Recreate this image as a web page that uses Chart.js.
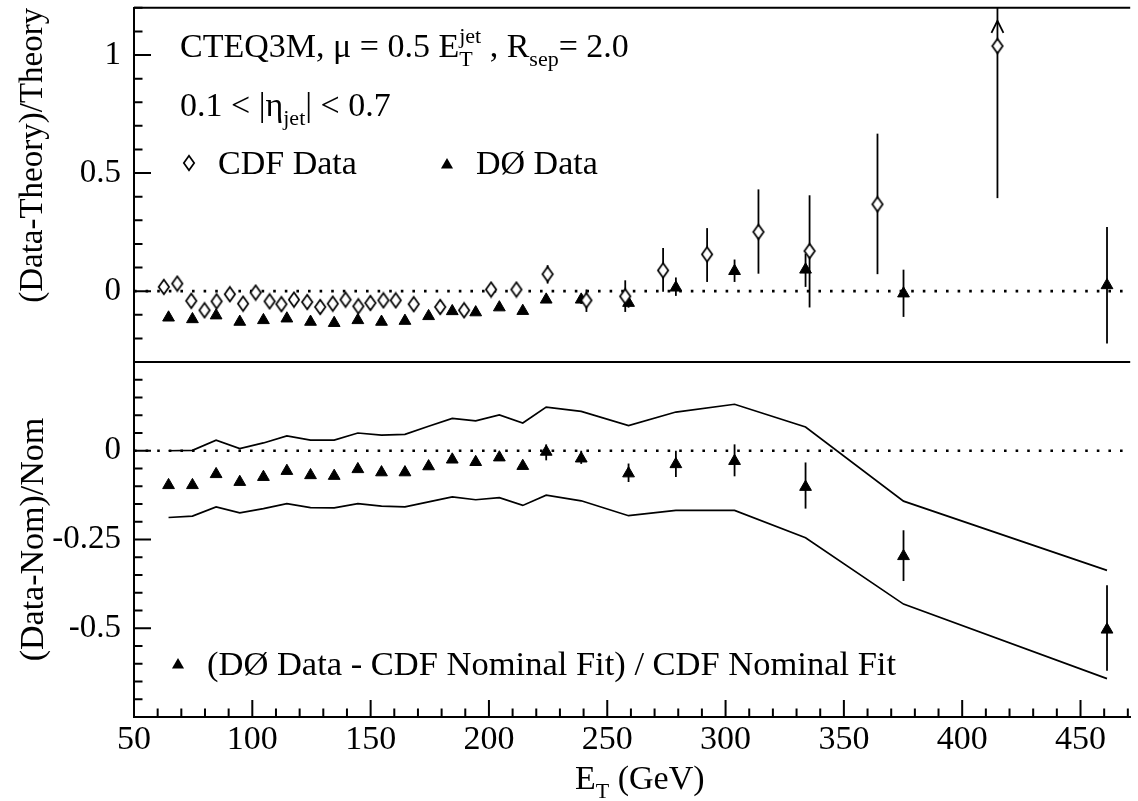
<!DOCTYPE html>
<html>
<head>
<meta charset="utf-8">
<script src="https://cdn.jsdelivr.net/npm/chart.js@4.4.1/dist/chart.umd.min.js"></script>
<style>
  html, body { margin: 0; padding: 0; background: #fff; }
  #wrap { position: relative; width: 1138px; height: 801px; }
  #wrap canvas { position: absolute; left: 0; top: 0; width: 1138px; height: 801px; }
</style>
</head>
<body>
<div id="wrap">
  <canvas id="upper" width="1138" height="801"></canvas>
  <canvas id="lower" width="1138" height="801"></canvas>
</div>
<script>
// CDF points (upper panel)
const cdfEt = [62.6, 68.3, 74.2, 79.8, 84.9, 90.5, 96.1, 101.4, 107.3, 112.3, 117.6, 123.2, 128.7, 134.0, 139.4, 144.8, 149.9, 155.4, 160.6, 168.2, 179.4, 189.5, 200.9, 211.6, 224.8, 241.2, 257.6, 273.6, 292.2, 313.9, 335.5, 364.2, 414.9];
const cdfVal = [0.018, 0.032, -0.041, -0.081, -0.043, -0.013, -0.053, -0.006, -0.043, -0.055, -0.036, -0.046, -0.067, -0.053, -0.036, -0.064, -0.050, -0.039, -0.039, -0.055, -0.067, -0.081, 0.007, 0.007, 0.072, -0.039, -0.022, 0.088, 0.156, 0.251, 0.170, 0.368, 1.038];
const cdfErrDn = [0.01, 0.01, 0.01, 0.01, 0.01, 0.01, 0.01, 0.01, 0.01, 0.01, 0.01, 0.01, 0.01, 0.01, 0.01, 0.01, 0.01, 0.01, 0.01, 0.01, 0.01, 0.01, 0.012, 0.017, 0.040, 0.049, 0.066, 0.091, 0.117, 0.177, 0.239, 0.296, 0.644];
const cdfErrUp = [0.01, 0.01, 0.01, 0.01, 0.01, 0.01, 0.01, 0.01, 0.01, 0.01, 0.01, 0.01, 0.01, 0.01, 0.01, 0.01, 0.01, 0.01, 0.01, 0.01, 0.01, 0.01, 0.012, 0.023, 0.038, 0.046, 0.068, 0.095, 0.111, 0.180, 0.236, 0.299, 0.500];

// DØ points (both panels share the bins)
const d0Et = [64.6, 74.7, 84.7, 94.7, 104.7, 114.6, 124.6, 134.6, 144.6, 154.6, 164.5, 174.5, 184.5, 194.4, 204.4, 214.3, 224.2, 239.0, 259.0, 279.0, 303.8, 333.8, 375.2, 461.2];
const d0Val = [-0.112, -0.119, -0.103, -0.130, -0.123, -0.116, -0.130, -0.135, -0.123, -0.130, -0.126, -0.106, -0.085, -0.090, -0.069, -0.084, -0.036, -0.036, -0.050, 0.015, 0.085, 0.091, -0.010, 0.025];
const d0ErrDn = [0.008, 0.008, 0.008, 0.008, 0.008, 0.008, 0.008, 0.008, 0.008, 0.008, 0.008, 0.008, 0.008, 0.008, 0.008, 0.008, 0.010, 0.018, 0.020, 0.035, 0.046, 0.073, 0.099, 0.247];
const d0ErrUp = [0.008, 0.008, 0.008, 0.008, 0.008, 0.008, 0.008, 0.008, 0.008, 0.008, 0.008, 0.008, 0.008, 0.008, 0.008, 0.008, 0.010, 0.018, 0.020, 0.043, 0.049, 0.068, 0.101, 0.247];

// lower panel: (DØ - CDF nominal fit) / CDF nominal fit, and the band
const nomVal = [-0.097, -0.097, -0.066, -0.088, -0.074, -0.057, -0.069, -0.071, -0.052, -0.061, -0.061, -0.044, -0.025, -0.032, -0.019, -0.043, -0.003, -0.022, -0.064, -0.038, -0.029, -0.102, -0.297, -0.504];
const nomErrDn = [0.008, 0.008, 0.008, 0.008, 0.008, 0.008, 0.008, 0.008, 0.008, 0.008, 0.008, 0.008, 0.008, 0.008, 0.008, 0.008, 0.024, 0.015, 0.024, 0.036, 0.043, 0.061, 0.070, 0.116];
const nomErrUp = [0.008, 0.008, 0.008, 0.008, 0.008, 0.008, 0.008, 0.008, 0.008, 0.008, 0.008, 0.008, 0.008, 0.008, 0.008, 0.008, 0.021, 0.022, 0.028, 0.038, 0.047, 0.069, 0.073, 0.125];
const bandUp = [0.000, 0.001, 0.030, 0.006, 0.022, 0.042, 0.030, 0.030, 0.050, 0.044, 0.046, 0.069, 0.091, 0.084, 0.101, 0.078, 0.123, 0.111, 0.071, 0.109, 0.131, 0.067, -0.142, -0.337];
const bandDown = [-0.188, -0.184, -0.158, -0.175, -0.163, -0.149, -0.160, -0.161, -0.149, -0.156, -0.158, -0.144, -0.130, -0.138, -0.132, -0.154, -0.125, -0.141, -0.183, -0.168, -0.168, -0.245, -0.432, -0.642];

// axes
const xTicks = [50, 100, 150, 200, 250, 300, 350, 400, 450];
const upperTicks = [0, 0.5, 1];
const lowerTicks = [-0.5, -0.25, 0];

const FONT = '"Liberation Serif", "Times New Roman", serif';
const BLACK = "#000";

function pts(xs, ys) {
  return xs.map((x, i) => ({ x: x, y: ys[i] }));
}

// open diamond marker, a bit taller than wide like the original
function makeDiamond() {
  const c = document.createElement("canvas");
  c.width = 14;
  c.height = 18;
  const g = c.getContext("2d");
  g.beginPath();
  g.moveTo(7, 1.8);
  g.lineTo(12.2, 9);
  g.lineTo(7, 16.2);
  g.lineTo(1.8, 9);
  g.closePath();
  g.fillStyle = "#fff";
  g.fill();
  g.lineWidth = 1.7;
  g.strokeStyle = BLACK;
  g.stroke();
  return c;
}
const diamond = makeDiamond();

function drawTriangle(ctx, x, y, r) {
  ctx.beginPath();
  ctx.moveTo(x, y - r);
  ctx.lineTo(x + 0.866 * r, y + 0.5 * r);
  ctx.lineTo(x - 0.866 * r, y + 0.5 * r);
  ctx.closePath();
  ctx.fillStyle = BLACK;
  ctx.fill();
}

// text with sub/superscripts: parts = [text, kind]
function drawRich(ctx, x, y, parts, size) {
  const small = Math.round(size * 0.64);
  ctx.fillStyle = BLACK;
  ctx.textBaseline = "alphabetic";
  ctx.textAlign = "left";
  parts.forEach(([t, k]) => {
    if (k === "sub") {
      ctx.font = small + "px " + FONT;
      ctx.fillText(t, x, y + size * 0.27);
      x += ctx.measureText(t).width;
    } else if (k === "subsup") {
      ctx.font = small + "px " + FONT;
      ctx.fillText(t[0], x, y + size * 0.27);
      ctx.fillText(t[1], x, y - size * 0.42);
      x += Math.max(ctx.measureText(t[0]).width, ctx.measureText(t[1]).width);
    } else {
      ctx.font = size + "px " + FONT;
      ctx.fillText(t, x, y);
      x += ctx.measureText(t).width;
    }
  });
  return x;
}

// vertical error bars, arrow when the bar leaves the frame
const errBars = {
  id: "errBars",
  beforeDatasetsDraw(chart, args, opts) {
    const ctx = chart.ctx;
    const xs = chart.scales.x;
    const ys = chart.scales.y;
    ctx.save();
    ctx.strokeStyle = BLACK;
    ctx.lineWidth = 1.8;
    (opts.sets || []).forEach((s) => {
      s.x.forEach((e, i) => {
        const px = xs.getPixelForValue(e);
        const lo = s.y[i] - s.dn[i];
        const hi = s.y[i] + s.up[i];
        const pLo = ys.getPixelForValue(Math.max(lo, ys.min));
        const pHi = ys.getPixelForValue(Math.min(hi, ys.max));
        ctx.beginPath();
        ctx.moveTo(px, pLo);
        ctx.lineTo(px, pHi);
        ctx.stroke();
        if (hi > ys.max) {
          const top = chart.chartArea.top + 13;
          ctx.beginPath();
          ctx.moveTo(px - 6, top + 12);
          ctx.lineTo(px, top);
          ctx.lineTo(px + 6, top + 12);
          ctx.stroke();
        }
      });
    });
    ctx.restore();
  },
};

// inward tick marks and frame lines
function drawTicks(ctx, scale, minor, major, horizontal, edge) {
  const k0 = Math.ceil(scale.min / minor - 1e-6);
  const k1 = Math.floor(scale.max / minor + 1e-6);
  const ratio = Math.round(major / minor);
  ctx.beginPath();
  for (let k = k0; k <= k1; k++) {
    const v = k * minor;
    const p = scale.getPixelForValue(v);
    const len = k % ratio === 0 ? 17 : 8.5;
    if (horizontal) {
      ctx.moveTo(p, edge);
      ctx.lineTo(p, edge - len);
    } else {
      ctx.moveTo(edge, p);
      ctx.lineTo(edge + len, p);
    }
  }
  ctx.stroke();
}

const frame = {
  id: "frame",
  afterDraw(chart, args, opts) {
    const ctx = chart.ctx;
    const a = chart.chartArea;
    ctx.save();
    ctx.strokeStyle = BLACK;
    ctx.lineWidth = 2;
    ctx.beginPath();
    ctx.moveTo(a.left, a.top);
    ctx.lineTo(a.right, a.top);
    ctx.stroke();
    drawTicks(ctx, chart.scales.y, opts.yMinor, opts.yMajor, false, a.left);
    if (opts.xTicks) {
      drawTicks(ctx, chart.scales.x, 10, 50, true, a.bottom);
    }
    ctx.restore();
  },
};

const upperText = {
  id: "upperText",
  afterDraw(chart) {
    const ctx = chart.ctx;
    ctx.save();
    drawRich(ctx, 180, 57, [
      ["CTEQ3M, μ = 0.5 E", "n"],
      [["T", "jet"], "subsup"],
      [" , R", "n"],
      ["sep", "sub"],
      ["= 2.0", "n"],
    ], 34);
    drawRich(ctx, 180, 116, [
      ["0.1 < |η", "n"],
      ["jet", "sub"],
      ["| < 0.7", "n"],
    ], 34);
    ctx.drawImage(diamond, 189 - 7, 163 - 9);
    drawRich(ctx, 218, 174, [["CDF Data", "n"]], 34);
    drawTriangle(ctx, 447, 165, 7);
    drawRich(ctx, 476, 174, [["DØ Data", "n"]], 34);
    ctx.restore();
  },
};

const lowerText = {
  id: "lowerText",
  afterDraw(chart) {
    const ctx = chart.ctx;
    ctx.save();
    drawTriangle(ctx, 178, 665, 7);
    drawRich(ctx, 207, 675, [["(DØ Data - CDF Nominal Fit) / CDF Nominal Fit", "n"]], 34.5);
    drawRich(ctx, 575, 789, [["E", "n"], ["T", "sub"], [" (GeV)", "n"]], 34);
    ctx.restore();
  },
};

function zeroLine() {
  return {
    type: "line",
    data: [{ x: 50, y: 0 }, { x: 471, y: 0 }],
    borderColor: BLACK,
    borderWidth: 2.6,
    borderDash: [2.6, 9],
    pointRadius: 0,
    showLine: true,
    order: 5,
  };
}

function yAxis(min, max, ticks, title, align, titleSize) {
  return {
    min: min,
    max: max,
    afterFit: (s) => {
      s.width = 134;
      s.paddingTop = 0;
      s.paddingBottom = 0;
    },
    afterBuildTicks: (s) => { s.ticks = ticks.map((v) => ({ value: v })); },
    grid: { display: false, drawTicks: false },
    border: { display: true, color: BLACK, width: 2 },
    ticks: {
      color: BLACK,
      font: { family: FONT, size: 33 },
      padding: 13,
      autoSkip: false,
      callback: (v) => String(v),
    },
    title: {
      display: true,
      text: title,
      align: align,
      color: BLACK,
      font: { family: FONT, size: titleSize },
      padding: { top: 14, bottom: 0 },
    },
  };
}

document.addEventListener("DOMContentLoaded", function () {
  new Chart(document.getElementById("upper"), {
    type: "scatter",
    data: {
      datasets: [
        zeroLine(),
        {
          label: "CDF Data",
          data: pts(cdfEt, cdfVal),
          pointStyle: diamond,
          pointRadius: 6,
          order: 1,
        },
        {
          label: "DØ Data",
          data: pts(d0Et, d0Val),
          pointStyle: "triangle",
          pointRadius: 6.8,
          backgroundColor: BLACK,
          borderColor: BLACK,
          borderWidth: 1,
          order: 2,
        },
      ],
    },
    options: {
      responsive: false,
      animation: false,
      events: [],
      layout: { padding: { top: 7, bottom: 439, left: 0, right: 0 } },
      plugins: {
        legend: { display: false },
        tooltip: { enabled: false },
        errBars: {
          sets: [
            { x: cdfEt, y: cdfVal, dn: cdfErrDn, up: cdfErrUp },
            { x: d0Et, y: d0Val, dn: d0ErrDn, up: d0ErrUp },
          ],
        },
        frame: { yMinor: 0.1, yMajor: 0.5 },
      },
      scales: {
        x: { type: "linear", min: 50, max: 471, display: false },
        y: yAxis(-0.3, 1.2, upperTicks, "(Data-Theory)/Theory", "end", 33),
      },
    },
    plugins: [errBars, frame, upperText],
  });

  new Chart(document.getElementById("lower"), {
    type: "scatter",
    data: {
      datasets: [
        zeroLine(),
        {
          type: "line",
          label: "band up",
          data: pts(d0Et, bandUp),
          borderColor: BLACK,
          borderWidth: 1.7,
          pointRadius: 0,
          tension: 0,
          showLine: true,
          order: 3,
        },
        {
          type: "line",
          label: "band down",
          data: pts(d0Et, bandDown),
          borderColor: BLACK,
          borderWidth: 1.7,
          pointRadius: 0,
          tension: 0,
          showLine: true,
          order: 3,
        },
        {
          label: "(DØ Data - CDF Nominal Fit) / CDF Nominal Fit",
          data: pts(d0Et, nomVal),
          pointStyle: "triangle",
          pointRadius: 6.8,
          backgroundColor: BLACK,
          borderColor: BLACK,
          borderWidth: 1,
          order: 1,
        },
      ],
    },
    options: {
      responsive: false,
      animation: false,
      events: [],
      layout: { padding: { top: 362, bottom: 0, left: 0, right: 0 } },
      plugins: {
        legend: { display: false },
        tooltip: { enabled: false },
        errBars: { sets: [{ x: d0Et, y: nomVal, dn: nomErrDn, up: nomErrUp }] },
        frame: { yMinor: 0.05, yMajor: 0.25, xTicks: true },
      },
      scales: {
        x: {
          type: "linear",
          min: 50,
          max: 471,
          afterFit: (s) => { s.height = 84; },
          afterBuildTicks: (s) => { s.ticks = xTicks.map((v) => ({ value: v })); },
          grid: { display: false, drawTicks: false },
          border: { display: true, color: BLACK, width: 2 },
          ticks: {
            color: BLACK,
            font: { family: FONT, size: 34 },
            padding: 3,
            autoSkip: false,
            maxRotation: 0,
            callback: (v) => String(v),
          },
        },
        y: yAxis(-0.75, 0.25, lowerTicks, "(Data-Nom)/Nom", "center", 34),
      },
    },
    plugins: [errBars, frame, lowerText],
  });
});
</script>
</body>
</html>
